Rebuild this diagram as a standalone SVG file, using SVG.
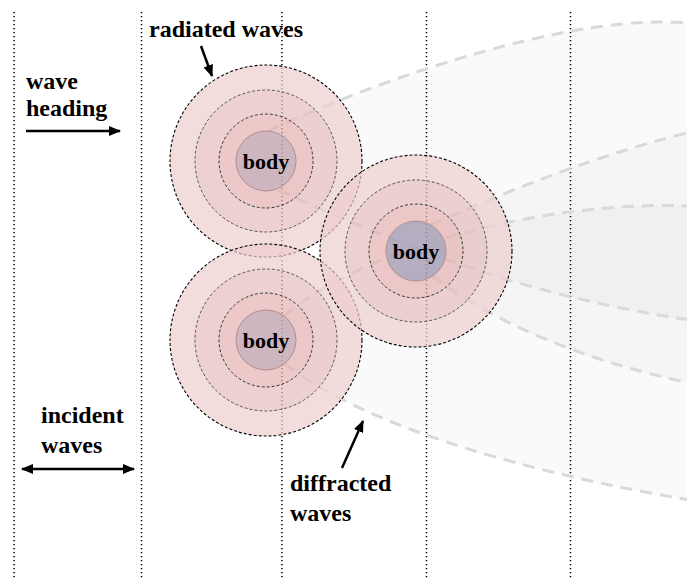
<svg xmlns="http://www.w3.org/2000/svg" width="687" height="584" viewBox="0 0 687 584">
<defs>
<style>
.grid{stroke:#000;stroke-width:1.5;stroke-dasharray:1.3 2.7;fill:none}
.wake{fill:#000;fill-opacity:0.019;stroke:none}
.wline{fill:none;stroke:#d9d9d9;stroke-width:3;stroke-dasharray:12 8}
.a1{fill:none;stroke:#eecdcd;stroke-width:25;stroke-opacity:0.7}
.a2{fill:none;stroke:#e6bdbd;stroke-width:24;stroke-opacity:0.7}
.a3{fill:none;stroke:#e4b0b0;stroke-width:17;stroke-opacity:0.7}
.o1{fill:none;stroke:#000;stroke-width:1.1;stroke-dasharray:3 2}
.o2{fill:none;stroke:#555;stroke-width:1;stroke-dasharray:3 2}
.o3{fill:none;stroke:#333;stroke-width:1;stroke-dasharray:3 2}
.b{stroke:#b38c8c;stroke-width:1;fill:#c4a9b4;fill-opacity:0.85}
.b2{fill:#a7a0b5}
.bt{font-family:"Liberation Serif","Times New Roman",serif;font-weight:bold;font-size:22px;text-anchor:middle;fill:#000}
.lbl{font-family:"Liberation Serif","Times New Roman",serif;font-weight:bold;font-size:24px;fill:#000}
.arr{stroke:#000;stroke-width:2.5;fill:none}
</style>
<marker id="ah" viewBox="0 0 12 10" refX="11" refY="5" markerWidth="12" markerHeight="10" markerUnits="userSpaceOnUse" orient="auto-start-reverse">
<path d="M0,0 L12,5 L0,10 Z" fill="#000"/>
</marker>
</defs>
<rect width="687" height="584" fill="#fff"/>
<g id="grid">
<line class="grid" x1="14" y1="12" x2="14" y2="580"/>
<line class="grid" x1="141.5" y1="12" x2="141.5" y2="580"/>
<line class="grid" x1="282" y1="12" x2="282" y2="580"/>
<line class="grid" x1="426.5" y1="12" x2="426.5" y2="580"/>
<line class="grid" x1="570.5" y1="12" x2="570.5" y2="580"/>
</g>
<g id="wakes">
<path class="wake" d="M268,131 C400,70 560,22 660,22 L700,23 L700,321 L690,320 C520,295 400,245 278,190 Z"/>
<path class="wake" d="M430,225 C500,195 580,160 690,132 L700,130 L700,385 L690,383 C580,360 490,320 432,276 Z"/>
<path class="wake" d="M284,316 C360,250 540,200 690,206 L700,206 L700,502 L690,500 C540,475 370,430 285,364 Z"/>
<path class="wline" d="M268,131 C400,70 560,22 660,22 L700,23"/>
<path class="wline" d="M278,190 C400,245 520,295 690,320"/>
<path class="wline" d="M430,225 C500,195 580,160 690,132"/>
<path class="wline" d="M432,276 C490,320 580,360 690,383"/>
<path class="wline" d="M284,316 C360,250 540,200 690,206"/>
<path class="wline" d="M285,364 C370,430 540,475 690,500"/>
</g>
<g id="body1">
<circle class="a1" cx="266" cy="161" r="83.5"/>
<circle class="a2" cx="266" cy="161" r="59"/>
<circle class="a3" cx="266" cy="161" r="38.5"/>
<circle class="o1" cx="266" cy="161" r="96"/>
<circle class="o2" cx="266" cy="161" r="71"/>
<circle class="o3" cx="266" cy="161" r="47"/>
<circle class="b" cx="266" cy="161" r="30"/>
<text class="bt" x="266" y="169">body</text>
</g>
<g id="body3">
<circle class="a1" cx="266" cy="340" r="83.5"/>
<circle class="a2" cx="266" cy="340" r="59"/>
<circle class="a3" cx="266" cy="340" r="38.5"/>
<circle class="o1" cx="266" cy="340" r="96"/>
<circle class="o2" cx="266" cy="340" r="71"/>
<circle class="o3" cx="266" cy="340" r="47"/>
<circle class="b" cx="266" cy="340" r="30"/>
<text class="bt" x="266" y="348">body</text>
</g>
<g id="body2">
<circle class="a1" cx="416" cy="251" r="83.5"/>
<circle class="a2" cx="416" cy="251" r="59"/>
<circle class="a3" cx="416" cy="251" r="38.5"/>
<circle class="o1" cx="416" cy="251" r="96"/>
<circle class="o2" cx="416" cy="251" r="71"/>
<circle class="o3" cx="416" cy="251" r="47"/>
<circle class="b b2" cx="416" cy="251" r="30"/>
<text class="bt" x="416" y="259">body</text>
</g>
<g id="connectors">
<line class="arr" x1="26" y1="131" x2="120" y2="131" marker-end="url(#ah)"/>
<line class="arr" x1="201" y1="46" x2="212" y2="76" marker-end="url(#ah)"/>
<line class="arr" x1="22" y1="469" x2="134" y2="469" marker-start="url(#ah)" marker-end="url(#ah)"/>
<line class="arr" x1="342" y1="468" x2="363" y2="421" marker-end="url(#ah)"/>
</g>
<g id="labels">
<text class="lbl" x="149" y="37">radiated waves</text>
<text class="lbl" x="26" y="89">wave</text>
<text class="lbl" x="26" y="116">heading</text>
<text class="lbl" x="41" y="423">incident</text>
<text class="lbl" x="41" y="453">waves</text>
<text class="lbl" x="290" y="491">diffracted</text>
<text class="lbl" x="290" y="521">waves</text>
</g>
</svg>
